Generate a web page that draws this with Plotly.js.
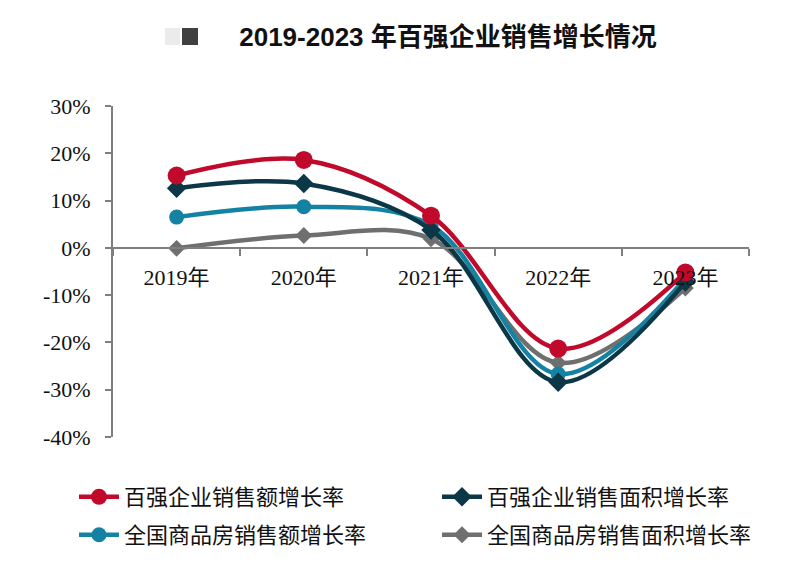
<!DOCTYPE html>
<html>
<head>
<meta charset="utf-8">
<script src="https://cdn.plot.ly/plotly-3.0.1.min.js"></script>
<style>html,body{margin:0;padding:0;background:#fff;}#chart{width:800px;height:571px;}</style>
</head>
<body>
<div id="chart"></div>
<script>
const years = ['2019年', '2020年', '2021年', '2022年', '2023年'];
const top100Amount = [15.3, 18.6, 6.8, -21.3, -5.2];
const top100Area = [12.6, 13.6, 3.8, -28.4, -7.2];
const nationalAmount = [6.5, 8.7, 4.8, -26.7, -6.5];
const nationalArea = [-0.1, 2.6, 1.9, -24.3, -8.5];
const seriesNames = ['百强企业销售额增长率', '百强企业销售面积增长率', '全国商品房销售额增长率', '全国商品房销售面积增长率'];
const yTickVals = [30, 20, 10, 0, -10, -20, -30, -40];
const yTickText = ['30%', '20%', '10%', '0%', '-10%', '-20%', '-30%', '-40%'];

const colors = ['#C0092B', '#0C3746', '#1483A3', '#6F6F6F'];
const symbols = ['circle', 'diamond', 'circle', 'diamond'];
const sizes = [18, 15, 15, 13];
const legends = ['legend', 'legend', 'legend2', 'legend2'];
const data = [top100Amount, top100Area, nationalAmount, nationalArea];

const order = [3, 2, 1, 0];
const traces = order.map(i => ({
  x: years, y: data[i], name: seriesNames[i], type: 'scatter', mode: 'lines+markers',
  line: {color: colors[i], width: 4.5, shape: 'spline', smoothing: 1},
  marker: {color: colors[i], symbol: symbols[i], size: sizes[i]},
  legend: legends[i], legendrank: i
}));

const legendCommon = {
  orientation: 'h', xanchor: 'left', yanchor: 'middle', xref: 'paper', yref: 'paper',
  entrywidth: 308, entrywidthmode: 'pixels', traceorder: 'normal',
  font: {family: '"Noto Sans CJK SC", sans-serif', size: 22, color: '#111'},
  itemwidth: 40, bgcolor: 'rgba(0,0,0,0)'
};

const layout = {
  width: 800, height: 571,
  margin: {l: 113, r: 51, t: 106, b: 134},
  paper_bgcolor: '#fff', plot_bgcolor: '#fff',
  showlegend: true,
  title: {text: '<b>2019-2023 年百强企业销售增长情况</b>', x: 448/800, xanchor: 'center', xref: 'container',
          y: 1 - 37/571, yanchor: 'middle', yref: 'container',
          font: {family: '"Liberation Sans", Arial, "Noto Sans CJK SC", sans-serif', size: 26, color: '#111'}},
  xaxis: {type: 'category', range: [-0.5, 4.5], anchor: 'free', position: 40/70,
          showline: true, linecolor: '#7F7F7F', linewidth: 2,
          ticks: 'outside', tickson: 'boundaries', ticklen: 7, tickcolor: '#7F7F7F', tickwidth: 2,
          ticklabelstandoff: 10, showgrid: false, zeroline: false, fixedrange: true,
          tickfont: {family: '"Liberation Serif", "Times New Roman", "Noto Sans CJK SC", serif', size: 22, color: '#111'}},
  yaxis: {range: [-40, 30], tickvals: yTickVals, ticktext: yTickText,
          showline: true, linecolor: '#7F7F7F', linewidth: 2,
          ticks: 'outside', ticklen: 6, tickcolor: '#7F7F7F', tickwidth: 2,
          showgrid: false, zeroline: false, fixedrange: true, ticklabelstandoff: 10,
          tickfont: {family: '"Liberation Serif", "Times New Roman", serif', size: 22, color: '#111'}},
  legend: Object.assign({}, legendCommon, {x: (74-113)/636, y: (437-497)/331}),
  legend2: Object.assign({}, legendCommon, {x: (74-113)/636, y: (437-535)/331}),
  shapes: [
    {type: 'rect', xref: 'paper', yref: 'paper', x0: (165-113)/636, x1: (180-113)/636, y0: (437-45)/331, y1: (437-28)/331,
     fillcolor: '#EBEBEB', line: {width: 0}},
    {type: 'rect', xref: 'paper', yref: 'paper', x0: (182-113)/636, x1: (198-113)/636, y0: (437-45)/331, y1: (437-28)/331,
     fillcolor: '#404040', line: {width: 0}}
  ]
};

Plotly.newPlot('chart', traces, layout, {displayModeBar: false, staticPlot: true});
</script>
</body>
</html>
